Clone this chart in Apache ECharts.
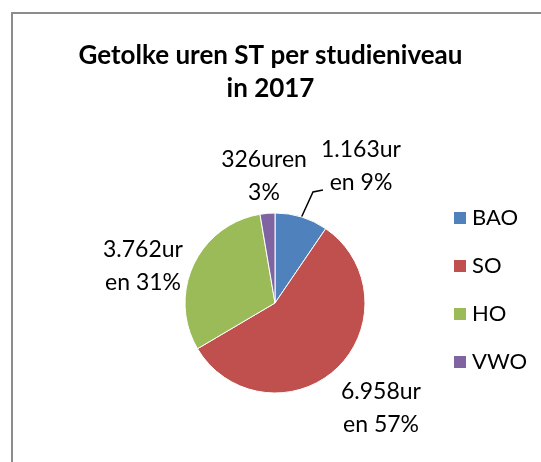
<!DOCTYPE html>
<html>
<head>
<meta charset="utf-8">
<script src="https://cdn.jsdelivr.net/npm/echarts@6/dist/echarts.min.js"></script>
<style>
  html, body { margin: 0; padding: 0; background: #fff; }
  #chart { width: 541px; height: 462px; }
</style>
</head>
<body>
<div id="chart"></div>
<script>
const categories = ['BAO', 'SO', 'HO', 'VWO']
const values = [1163, 6958, 3762, 326]
const colors = ['#4F81BD', '#C0504D', '#9BBB59', '#8064A2']
// label centres (Excel placed them by hand)
const labelSpots = [[361, 166], [381, 408], [143, 266], [264, 176]]

const FONT = 'Lato, "Open Sans", sans-serif'

// Dutch thousands separator, then wrap like Excel did at ~7 chars
const labelText = (v, pct) => {
  const s = `${String(v).replace(/\B(?=(\d{3})+(?!\d))/g, '.')}uren ${pct}%`
  return s.slice(0, 7) + '\n' + s.slice(7).trim()
}

const chart = echarts.init(document.getElementById('chart'))

chart.setOption({
  backgroundColor: '#fff',
  animation: false,
  graphic: [{
    type: 'rect',
    shape: { x: 12, y: 13, width: 600, height: 600 },
    style: { fill: 'none', stroke: '#8c8c8c', lineWidth: 2 },
    silent: true,
  }],
  title: {
    text: 'Getolke uren ST per studieniveau\nin 2017',
    left: 'center',
    top: 34,
    textStyle: { fontFamily: FONT, fontWeight: 'bold', fontSize: 26, color: '#000', lineHeight: 33 },
  },
  legend: {
    orient: 'vertical',
    left: 447,
    top: 202,
    itemWidth: 14,
    itemHeight: 14,
    itemGap: 26,
    icon: 'rect',
    textStyle: { fontFamily: FONT, fontSize: 22, color: '#000' },
    data: categories,
  },
  series: [{
    type: 'pie',
    center: [275, 303],
    radius: 90,
    startAngle: 90,
    clockwise: true,
    percentPrecision: 0,
    color: colors,
    itemStyle: { borderColor: '#fff', borderWidth: 1 },
    label: {
      show: true,
      position: 'outside',
      fontFamily: FONT,
      fontSize: 23,
      lineHeight: 33,
      color: '#000',
      align: 'center',
      formatter: (p) => labelText(p.value, p.percent),
    },
    labelLine: { show: false },
    labelLayout: (p) => {
      const [x, y] = labelSpots[p.dataIndex]
      const out = { x, y, align: 'center', verticalAlign: 'middle' }
      if (p.dataIndex === 0 && p.labelLinePoints) {
        // Excel-style elbow: up from the slice, then a short flat run to the text
        const start = p.labelLinePoints[0]
        const end = [x - 38, y + 24]
        out.labelLinePoints = [start, [end[0] - 10, end[1] + 2], end]
      }
      return out
    },
    emphasis: { disabled: true },
    data: categories.map((name, i) => ({
      name,
      value: values[i],
      labelLine: i === 0 ? { show: true, length: 10, length2: 10, lineStyle: { color: '#000', width: 1.5 } } : undefined,
    })),
  }],
})
</script>
</body>
</html>
